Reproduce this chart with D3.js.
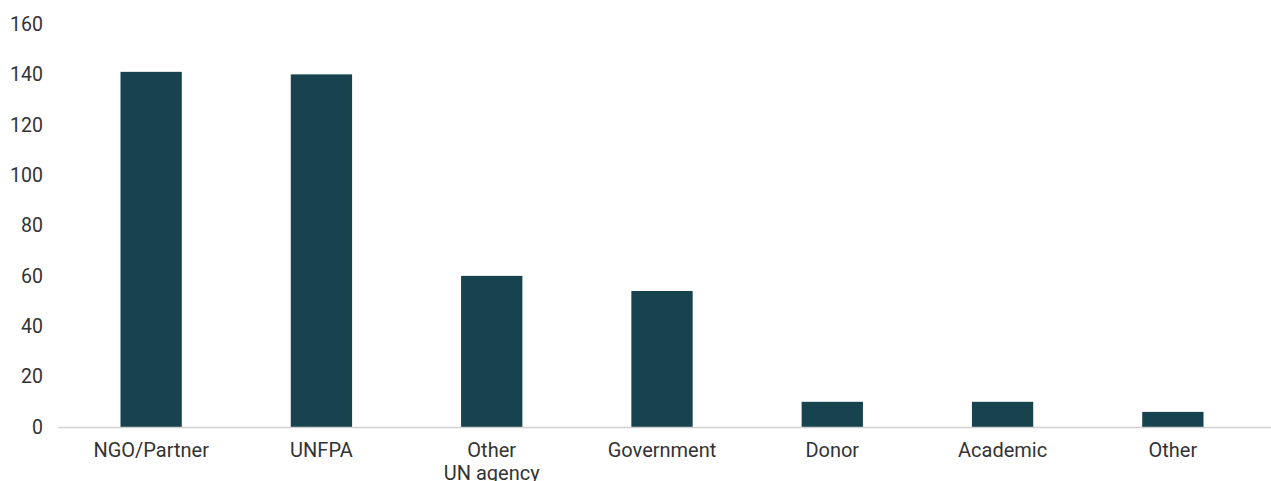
<!DOCTYPE html>
<html>
<head>
<meta charset="utf-8">
<script src="https://cdn.jsdelivr.net/npm/d3@7"></script>
<style>
  body { margin: 0; background: #fff; }
  svg text { font-family: Roboto, sans-serif; fill: #333; }
</style>
</head>
<body>
<svg id="chart" width="1271" height="481"></svg>
<script>
const categories = ["NGO/Partner", "UNFPA", "Other\nUN agency", "Government", "Donor", "Academic", "Other"];
const values = [141, 140, 60, 54, 10, 10, 6];
const yTicks = [0, 20, 40, 60, 80, 100, 120, 140, 160];

const svg = d3.select("#chart");
const x = d3.scaleBand().domain(categories).range([66, 1258]).paddingInner(0.64).paddingOuter(0.32);
const y = d3.scaleLinear().domain([0, 160]).range([427, 24]);

// y tick labels, no axis line
svg.append("g")
  .attr("transform", "translate(48,0)")
  .call(d3.axisLeft(y).tickValues(yTicks).tickSize(0).tickPadding(5))
  .call(g => g.select(".domain").remove())
  .selectAll("text")
  .style("font-size", "19.5px")
  .attr("fill", "#333");

svg.append("g").selectAll("rect")
  .data(values)
  .join("rect")
  .attr("x", (d, i) => x(categories[i]))
  .attr("width", x.bandwidth())
  .attr("y", d => y(d))
  .attr("height", d => y(0) - y(d))
  .attr("fill", "#17434f");

// baseline
svg.append("line")
  .attr("x1", 58).attr("x2", 1271)
  .attr("y1", y(0) + 0.5).attr("y2", y(0) + 0.5)
  .attr("stroke", "#d0d0d0").attr("stroke-width", 1.5);

// category labels
const lab = svg.append("g").selectAll("text")
  .data(categories)
  .join("text")
  .attr("x", d => x(d) + x.bandwidth() / 2)
  .attr("y", 457)
  .attr("text-anchor", "middle")
  .style("font-size", "20px");
lab.selectAll("tspan")
  .data(d => d.split("\n").map((t, k) => ({ t, k, c: d })))
  .join("tspan")
  .attr("x", d => x(d.c) + x.bandwidth() / 2)
  .attr("dy", d => d.k === 0 ? 0 : 23)
  .text(d => d.t);
</script>
</body>
</html>
